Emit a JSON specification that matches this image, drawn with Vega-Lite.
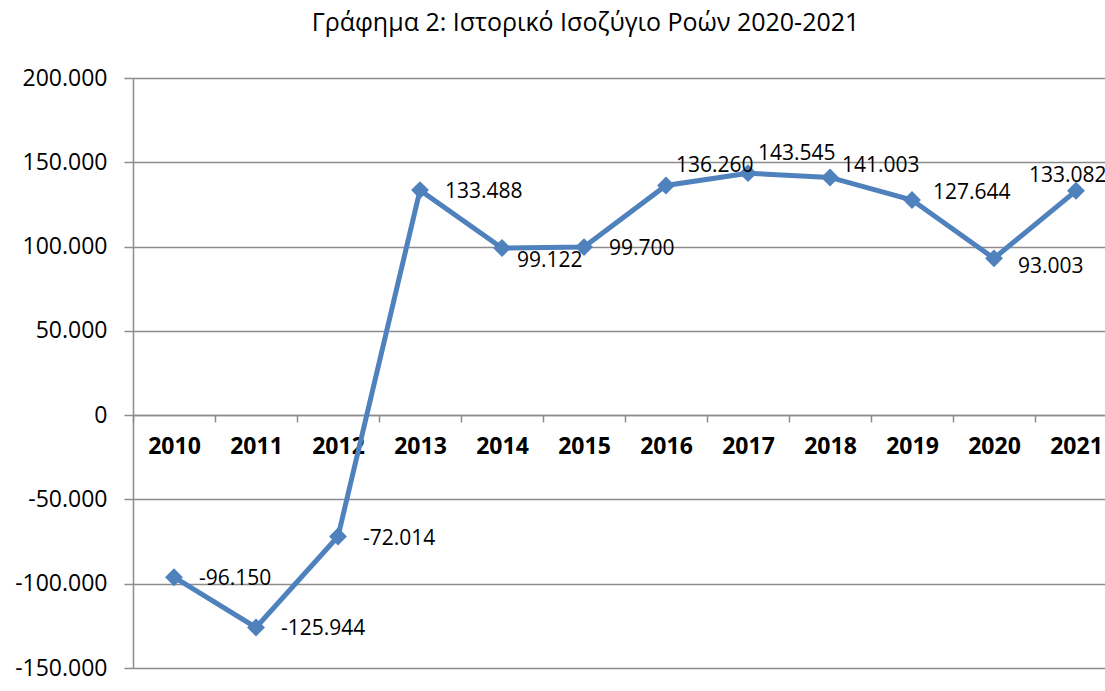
{
  "$schema": "https://vega.github.io/schema/vega-lite/v6.json",
  "autosize": "none",
  "width": 972,
  "height": 590,
  "padding": {"left": 133, "top": 78, "right": 0, "bottom": 23},
  "background": "white",
  "config": {
    "locale": {"number": {"decimal": ",", "thousands": ".", "grouping": [3], "currency": ["", " €"], "minus": "-"}},
    "view": {"stroke": null},
    "font": "Open Sans"
  },
  "title": {
    "text": "Γράφημα 2: Ιστορικό Ισοζύγιο Ροών 2020-2021",
    "anchor": "start",
    "dx": 297,
    "offset": 11,
    "baseline": "alphabetic",
    "fontSize": 25,
    "fontWeight": "normal",
    "font": "Open Sans",
    "color": "#000000"
  },
  "data": {
    "values": [
      {"year": "2010", "value": -96150},
      {"year": "2011", "value": -125944},
      {"year": "2012", "value": -72014},
      {"year": "2013", "value": 133488},
      {"year": "2014", "value": 99122},
      {"year": "2015", "value": 99700},
      {"year": "2016", "value": 136260},
      {"year": "2017", "value": 143545},
      {"year": "2018", "value": 141003},
      {"year": "2019", "value": 127644},
      {"year": "2020", "value": 93003},
      {"year": "2021", "value": 133082}
    ]
  },
  "encoding": {
    "x": {
      "field": "year",
      "type": "ordinal",
      "scale": {"range": [0, 984], "paddingInner": 0, "paddingOuter": 0},
      "axis": {
        "title": null,
        "orient": "bottom",
        "offset": -253,
        "labelAngle": 0,
        "tickBand": "extent",
        "tickSize": 7,
        "tickColor": "#8c8c8c",
        "tickWidth": 1.5,
        "domainColor": "#8c8c8c",
        "domainWidth": 1.5,
        "labelFont": "Open Sans",
        "labelFontSize": 23,
        "labelFontWeight": "bold",
        "labelColor": "#000000",
        "labelPadding": 13,
        "grid": false
      }
    },
    "y": {
      "field": "value",
      "type": "quantitative",
      "scale": {"domain": [-150000, 200000], "nice": false, "zero": false},
      "axis": {
        "title": null,
        "values": [-150000, -100000, -50000, 0, 50000, 100000, 150000, 200000],
        "format": ",.0f",
        "grid": true,
        "gridColor": "#8c8c8c",
        "gridWidth": 1.5,
        "domainColor": "#8c8c8c",
        "domainWidth": 1.5,
        "tickColor": "#8c8c8c",
        "tickWidth": 1.5,
        "tickSize": 9,
        "labelFont": "Open Sans",
        "labelFontSize": 23,
        "labelColor": "#000000",
        "labelPadding": 17
      }
    }
  },
  "layer": [
    {"mark": {"type": "line", "color": "#4f81bd", "strokeWidth": 5}},
    {"mark": {"type": "point", "shape": "diamond", "filled": true, "opacity": 1, "color": "#4f81bd", "size": 320}},
    {
      "transform": [{"filter": {"field": "year", "oneOf": ["2010", "2011", "2012", "2013", "2015"]}}],
      "mark": {"type": "text", "align": "left", "baseline": "middle", "dx": 25, "dy": 2, "fontSize": 21, "font": "Open Sans", "color": "#000000"},
      "encoding": {"text": {"field": "value", "type": "quantitative", "format": ",.0f"}}
    },
    {
      "transform": [{"filter": {"field": "year", "equal": "2019"}}],
      "mark": {"type": "text", "align": "left", "baseline": "middle", "dx": 21, "dy": -7, "fontSize": 21, "font": "Open Sans", "color": "#000000"},
      "encoding": {"text": {"field": "value", "type": "quantitative", "format": ",.0f"}}
    },
    {
      "transform": [{"filter": {"field": "year", "equal": "2014"}}],
      "mark": {"type": "text", "align": "left", "baseline": "middle", "dx": 15, "dy": 13, "fontSize": 21, "font": "Open Sans", "color": "#000000"},
      "encoding": {"text": {"field": "value", "type": "quantitative", "format": ",.0f"}}
    },
    {
      "transform": [{"filter": {"field": "year", "oneOf": ["2016", "2017"]}}],
      "mark": {"type": "text", "align": "left", "baseline": "middle", "dx": 10, "dy": -19, "fontSize": 21, "font": "Open Sans", "color": "#000000"},
      "encoding": {"text": {"field": "value", "type": "quantitative", "format": ",.0f"}}
    },
    {
      "transform": [{"filter": {"field": "year", "equal": "2018"}}],
      "mark": {"type": "text", "align": "left", "baseline": "middle", "dx": 12, "dy": -11, "fontSize": 21, "font": "Open Sans", "color": "#000000"},
      "encoding": {"text": {"field": "value", "type": "quantitative", "format": ",.0f"}}
    },
    {
      "transform": [{"filter": {"field": "year", "equal": "2020"}}],
      "mark": {"type": "text", "align": "left", "baseline": "middle", "dx": 24, "dy": 9, "fontSize": 21, "font": "Open Sans", "color": "#000000"},
      "encoding": {"text": {"field": "value", "type": "quantitative", "format": ",.0f"}}
    },
    {
      "transform": [{"filter": {"field": "year", "equal": "2021"}}],
      "mark": {"type": "text", "align": "left", "baseline": "middle", "dx": -47, "dy": -15, "fontSize": 21, "font": "Open Sans", "color": "#000000"},
      "encoding": {"text": {"field": "value", "type": "quantitative", "format": ",.0f"}}
    }
  ]
}
